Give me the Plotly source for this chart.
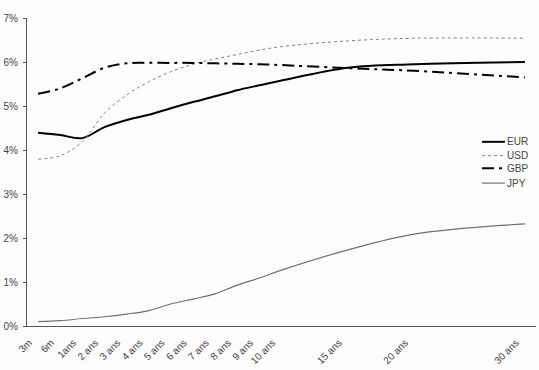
import plotly.graph_objects as go

# category positions (index in Excel category axis; blank categories between 10/15/20/30 ans)
cat_pos = [0, 1, 2, 3, 4, 5, 6, 7, 8, 9, 10, 11, 14, 17, 22]
cat_labels = ["3m", "6m", "1ans", "2 ans", "3 ans", "4 ans", "5 ans", "6 ans", "7 ans",
              "8 ans", "9 ans", "10 ans", "15 ans", "20 ans", "30 ans"]

eur = [4.39, 4.34, 4.27, 4.52, 4.68, 4.80, 4.95, 5.09, 5.22, 5.36, 5.47, 5.58, 5.87, 5.95, 6.00]
usd = [3.79, 3.87, 4.19, 4.84, 5.25, 5.55, 5.78, 5.95, 6.07, 6.17, 6.27, 6.35, 6.48, 6.54, 6.54]
gbp = [5.28, 5.40, 5.63, 5.87, 5.97, 5.98, 5.98, 5.98, 5.97, 5.96, 5.95, 5.93, 5.86, 5.80, 5.65]
jpy = [0.10, 0.12, 0.17, 0.21, 0.27, 0.35, 0.50, 0.61, 0.73, 0.93, 1.09, 1.27, 1.73, 2.09, 2.32]

y_ticks = [0, 1, 2, 3, 4, 5, 6, 7]
y_tick_text = ["0%", "1%", "2%", "3%", "4%", "5%", "6%", "7%"]

series = [
    ("EUR", eur, dict(color="#000000", width=2)),
    ("USD", usd, dict(color="#808080", width=1, dash="dot")),
    ("GBP", gbp, dict(color="#000000", width=2, dash="12px,5px,3px,5px")),
    ("JPY", jpy, dict(color="#707070", width=1.2)),
]

fig = go.Figure()
for name, vals, ln in series:
    fig.add_trace(go.Scatter(x=cat_pos, y=vals, name=name, mode="lines",
                             line_shape="spline", line=ln, showlegend=False))

# manual compact legend (Excel style)
leg_x0, leg_x1, leg_tx = 0.894, 0.939, 0.940
leg_y = [0.598, 0.553, 0.512, 0.464]
for (name, vals, ln), ly in zip(series, leg_y):
    fig.add_shape(type="line", xref="paper", yref="paper", x0=leg_x0, x1=leg_x1, y0=ly, y1=ly,
                  line=dict(color=ln["color"], width=ln["width"], dash=ln.get("dash", "solid")))
    fig.add_annotation(xref="paper", yref="paper", x=leg_tx, y=ly, text=name, showarrow=False,
                       xanchor="left", yanchor="middle", font=dict(size=10, color="#444444"))

fig.update_layout(
    width=539, height=370,
    margin=dict(l=27, r=3, t=18, b=44, autoexpand=False),
    paper_bgcolor="#fcfcfc", plot_bgcolor="#fcfcfc",
    font=dict(family="Arial, Liberation Sans, sans-serif", size=10, color="#444444"),
    showlegend=False,
    xaxis=dict(range=[-0.5, 22.5], tickmode="array", tickvals=cat_pos, ticktext=cat_labels,
               tickangle=-45, showgrid=False, zeroline=False, showline=True,
               linecolor="#555555", linewidth=1, ticks="", tickfont=dict(size=10),
               ticklabelstandoff=6, ticklabelshift=-9, automargin=False),
    yaxis=dict(range=[0, 7], tickmode="array", tickvals=y_ticks, ticktext=y_tick_text,
               showgrid=False, zeroline=False, showline=True, linecolor="#555555",
               linewidth=1, ticks="outside", ticklen=3, tickcolor="#555555",
               tickfont=dict(size=10), ticklabelstandoff=3, automargin=False),
)

fig.write_html("out.html", config={"displayModeBar": False},
               post_script="document.body.style.margin='0';document.body.style.overflow='hidden';")
